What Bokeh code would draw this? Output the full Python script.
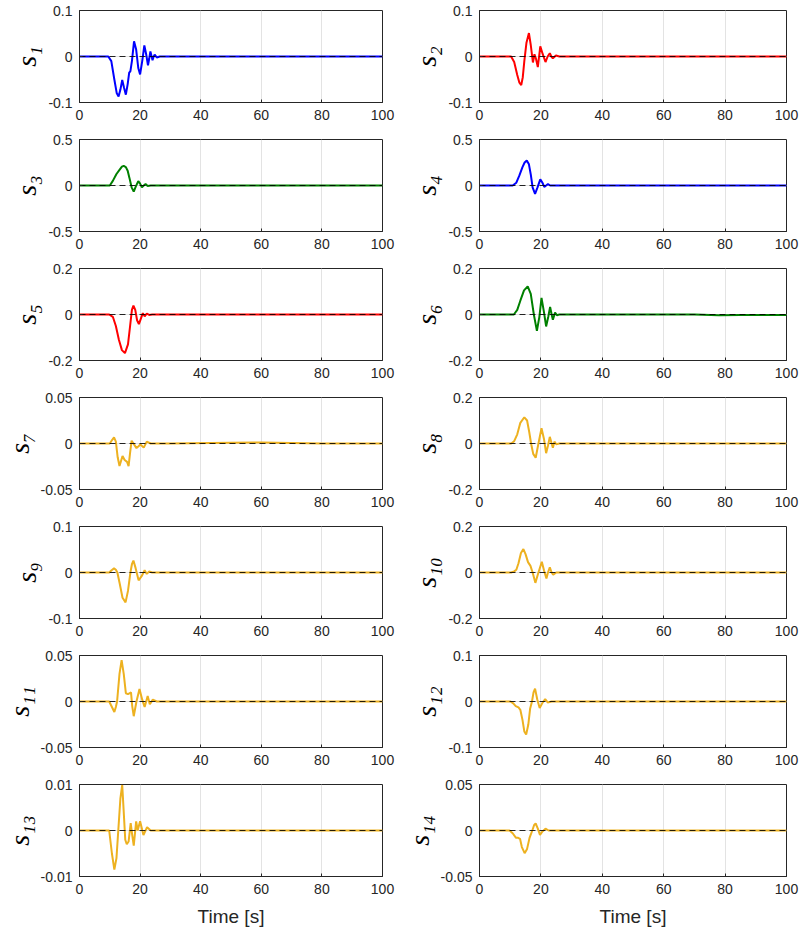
from bokeh.plotting import figure
from bokeh.layouts import gridplot
from bokeh.models import Range1d, FixedTicker
from bokeh.embed import file_html
from bokeh.resources import INLINE

# ---------------- data ----------------
x_ticks = [0, 20, 40, 60, 80, 100]
ref_t = [0, 100]
ref_v = [0, 0]

labels = ["s\u2081", "s\u2082", "s\u2083", "s\u2084", "s\u2085", "s\u2086", "s\u2087",
          "s\u2088", "s\u2089", "s\u2081\u2080", "s\u2081\u2081", "s\u2081\u2082",
          "s\u2081\u2083", "s\u2081\u2084"]
y_limits = [0.1, 0.1, 0.5, 0.5, 0.2, 0.2, 0.05, 0.2, 0.1, 0.2, 0.05, 0.1, 0.01, 0.05]
y_tick_labels = [["-0.1", "0", "0.1"], ["-0.1", "0", "0.1"], ["-0.5", "0", "0.5"],
                 ["-0.5", "0", "0.5"], ["-0.2", "0", "0.2"], ["-0.2", "0", "0.2"],
                 ["-0.05", "0", "0.05"], ["-0.2", "0", "0.2"], ["-0.1", "0", "0.1"],
                 ["-0.2", "0", "0.2"], ["-0.05", "0", "0.05"], ["-0.1", "0", "0.1"],
                 ["-0.01", "0", "0.01"], ["-0.05", "0", "0.05"]]
line_colors = ["#0000ff", "#ff0000", "#008000", "#0000ff", "#ff0000", "#008000",
               "#edb120", "#edb120", "#edb120", "#edb120", "#edb120", "#edb120",
               "#edb120", "#edb120"]

s1_t = [0, 9.5, 10.5, 11.5, 12.3, 12.9, 13.5, 14.1, 14.7, 15.3, 15.9, 16.4, 16.8, 17.3, 18.0,
        18.7, 19.4, 20.0, 20.7, 21.4, 22.0, 22.6, 23.0, 23.4, 23.8, 24.1, 24.5, 24.8, 25.5, 26.5, 100]
s1_v = [0, 0, -0.01, -0.05, -0.08, -0.087, -0.072, -0.051, -0.068, -0.083, -0.06, -0.035, -0.032,
        -0.01, 0.033, 0.015, -0.025, -0.039, -0.01, 0.024, 0.005, -0.019, -0.005, 0.011, 0.0,
        -0.008, 0, 0.004, -0.002, 0, 0]

s2_t = [0, 10.3, 11.3, 12.3, 13.0, 13.6, 14.1, 14.6, 15.3, 16.1, 16.7, 17.4, 17.9, 18.4, 19.0,
        19.8, 20.6, 21.5, 22.2, 22.9, 23.4, 23.9, 24.9, 26, 100]
s2_v = [0, 0, -0.012, -0.04, -0.057, -0.062, -0.045, -0.01, 0.03, 0.051, 0.025, -0.013, 0.005,
        -0.005, -0.023, 0.022, 0.005, -0.012, 0.0, 0.007, 0.0, -0.004, 0.002, 0, 0]

s3_t = [0, 10, 11, 12.2, 13.2, 14.0, 14.6, 15.3, 15.9, 16.5, 17.2, 17.9, 18.6, 19.4, 20.0, 20.6,
        21.2, 21.8, 22.5, 23.5, 100]
s3_v = [0, 0, 0.05, 0.125, 0.17, 0.205, 0.213, 0.2, 0.16, 0.08, -0.02, -0.067, -0.01, 0.048,
        0.02, -0.019, 0, 0.015, -0.005, 0, 0]

s4_t = [0, 10.8, 12, 13, 14, 14.7, 15.4, 16.1, 16.7, 17.3, 18.1, 18.9, 19.8, 20.5, 21.1, 21.7,
        22.3, 23, 100]
s4_v = [0, 0, 0.03, 0.11, 0.2, 0.25, 0.272, 0.23, 0.12, -0.02, -0.09, -0.02, 0.067, 0.03,
        -0.015, 0, 0.015, 0, 0]

s5_t = [0, 9.8, 11, 12, 13, 14, 15, 16, 16.7, 17.3, 17.8, 18.4, 19.0, 19.6, 20.2, 20.9, 21.5,
        22.2, 23, 24, 100]
s5_v = [0, 0, -0.01, -0.05, -0.11, -0.155, -0.168, -0.13, -0.05, 0.02, 0.039, 0.02, -0.025,
        -0.042, -0.02, 0.006, -0.008, 0.004, -0.002, 0, 0]

s6_t = [0, 11.2, 12.3, 13.3, 14.5, 15.7, 16.7, 17.7, 18.7, 19.5, 20.2, 21.0, 21.7, 22.4, 23.0,
        23.5, 23.9, 24.3, 24.6, 25.2, 26, 70, 78, 85, 100]
s6_v = [0, 0, 0.02, 0.06, 0.105, 0.122, 0.09, 0.0, -0.071, -0.01, 0.072, 0.01, -0.052, -0.01,
        0.033, 0.0, -0.023, -0.005, 0.008, -0.003, 0, 0, -0.003, -0.002, -0.002]

s7_t = [0, 10, 10.8, 11.4, 12.0, 12.6, 13.2, 13.7, 14.2, 14.9, 15.7, 16.2, 16.7, 17.2, 18.0,
        18.8, 19.5, 20.1, 21.2, 22.2, 23.5, 30, 50, 60, 70, 80, 100]
s7_v = [0, 0, 0.004, 0.0066, 0.002, -0.015, -0.0245, -0.019, -0.0135, -0.018, -0.02, -0.0245,
        -0.01, 0.003, -0.001, -0.005, -0.003, -0.001, -0.0045, 0.002, 0, 0, 0.0008, 0.001,
        0.0006, 0, 0]

s8_t = [0, 10.3, 11.3, 12.3, 13.3, 14.6, 15.5, 16.2, 16.8, 17.5, 18.3, 19.2, 20.2, 21.0, 21.7,
        22.3, 22.9, 23.4, 23.9, 24.4, 25, 26, 100]
s8_v = [0, 0, 0.01, 0.04, 0.09, 0.114, 0.1, 0.05, 0.0, -0.045, -0.062, 0.0, 0.066, 0.02,
        -0.042, -0.01, 0.029, 0.005, -0.018, 0.008, -0.003, 0, 0]

s9_t = [0, 9.8, 10.6, 11.4, 12.0, 12.5, 13.3, 14.2, 15.2, 16.0, 16.8, 17.3, 17.8, 18.5, 19.5,
        20.5, 21.5, 22.2, 23, 24, 100]
s9_v = [0, 0, 0.005, 0.009, 0.006, 0.0, -0.025, -0.055, -0.065, -0.04, 0.0, 0.018, 0.026, 0.01,
        -0.017, -0.008, 0.005, -0.003, 0.002, 0, 0]

s10_t = [0, 10.3, 11.3, 12.0, 12.7, 13.5, 14.3, 15.0, 15.8, 16.6, 17.3, 18.2, 19.2, 20.3, 21.0,
         21.8, 22.3, 22.9, 23.5, 24.0, 25, 100]
s10_v = [0, 0, 0.005, 0.012, 0.04, 0.085, 0.102, 0.08, 0.045, 0.029, 0.0, -0.045, 0.0, 0.047,
         0.01, -0.026, 0.0, 0.022, 0.0, -0.01, 0, 0]

s11_t = [0, 9.8, 10.7, 11.5, 12.0, 12.4, 13.2, 13.9, 14.6, 15.3, 16.0, 16.6, 17.0, 17.4, 17.9,
         18.8, 19.8, 20.7, 21.5, 22.0, 22.5, 23.2, 24.2, 25.5, 100]
s11_v = [0, 0, -0.006, -0.0114, -0.006, 0.0, 0.03, 0.045, 0.03, 0.009, 0.008, 0.009, 0.01,
         -0.005, -0.016, 0.0, 0.0136, 0.002, -0.006, 0.0, 0.006, -0.003, 0.002, 0, 0]

s12_t = [0, 10.1, 11.0, 11.8, 12.7, 13.3, 14.0, 14.6, 15.2, 15.9, 16.5, 17.1, 17.6, 18.1, 18.8,
         19.6, 20.5, 21.4, 22.2, 23.5, 100]
s12_v = [0, 0, -0.004, -0.01, -0.013, -0.018, -0.04, -0.065, -0.072, -0.05, -0.015, 0.0, 0.02,
         0.028, 0.005, -0.014, -0.003, 0.005, -0.002, 0, 0]

s13_t = [0, 9.8, 10.7, 11.5, 12.2, 12.8, 13.5, 14.1, 14.6, 15.1, 15.6, 16.2, 16.9, 17.4, 17.9,
         18.7, 19.2, 20.0, 21.1, 22.3, 23.5, 100]
s13_v = [0, 0, -0.005, -0.0085, -0.006, 0.0, 0.007, 0.0099, 0.004, -0.002, -0.003, -0.0024,
         0.0016, -0.001, -0.0033, 0.002, 0.0, 0.002, -0.001, 0.0007, 0, 0]

s14_t = [0, 9.8, 10.8, 11.9, 12.6, 13.2, 13.8, 14.7, 15.5, 16.3, 17.2, 17.8, 18.3, 19.0, 19.7,
         20.5, 21.5, 22.5, 100]
s14_v = [0, 0, -0.003, -0.008, -0.008, -0.009, -0.018, -0.0246, -0.02, -0.008, 0.0, 0.006,
         0.0076, 0.002, -0.0047, -0.001, 0.002, 0, 0]

series_t = [s1_t, s2_t, s3_t, s4_t, s5_t, s6_t, s7_t, s8_t, s9_t, s10_t, s11_t, s12_t, s13_t, s14_t]
series_v = [s1_v, s2_v, s3_v, s4_v, s5_v, s6_v, s7_v, s8_v, s9_v, s10_v, s11_v, s12_v, s13_v, s14_v]

# ---------------- layout ----------------
AX = "#262626"
FRAME_H = 92
TOP = 10
BOTTOM = 27
BOTTOM_LAST = 55

figs = []
for i in range(14):
    row, col = divmod(i, 2)
    last = row == 6
    if col == 0:
        bl, fw, br = 76, 306, 18
    else:
        bl, fw, br = 78, 308, 13
    bb = BOTTOM_LAST if last else BOTTOM
    a = y_limits[i]
    p = figure(width=bl + fw + br, height=TOP + FRAME_H + bb,
               x_range=Range1d(0, 100), y_range=Range1d(-a, a),
               output_backend="svg", toolbar_location=None, tools="")
    p.min_border_left = bl
    p.min_border_right = br
    p.min_border_top = TOP
    p.min_border_bottom = bb
    p.background_fill_color = "white"
    p.border_fill_color = "white"
    p.outline_line_color = AX
    p.outline_line_width = 1

    p.xaxis.ticker = FixedTicker(ticks=x_ticks)
    p.yaxis.ticker = FixedTicker(ticks=[-a, 0, a])
    p.yaxis.major_label_overrides = {-a: y_tick_labels[i][0], 0: y_tick_labels[i][1],
                                     a: y_tick_labels[i][2]}
    for ax in (p.xaxis, p.yaxis):
        ax.axis_line_color = AX
        ax.major_tick_line_color = AX
        ax.major_tick_in = 3
        ax.major_tick_out = 0
        ax.minor_tick_line_color = None
        ax.major_label_text_font = "Liberation Sans"
        ax.major_label_text_font_size = "14px"
        ax.major_label_text_color = AX
        ax.major_label_standoff = 7
    p.yaxis.axis_label = labels[i]
    p.yaxis.axis_label_text_font = "Liberation Serif"
    p.yaxis.axis_label_text_font_style = "italic"
    p.yaxis.axis_label_text_font_size = "28px"
    p.yaxis.axis_label_text_color = "black"
    p.yaxis.axis_label_standoff = 3
    if last:
        p.xaxis.axis_label = "Time [s]"
        p.xaxis.axis_label_text_font = "Liberation Sans"
        p.xaxis.axis_label_text_font_style = "normal"
        p.xaxis.axis_label_text_font_size = "19px"
        p.xaxis.axis_label_text_color = AX
        p.xaxis.axis_label_standoff = 9

    p.xgrid.ticker = FixedTicker(ticks=x_ticks)
    p.ygrid.ticker = FixedTicker(ticks=[-a, 0, a])
    for g in (p.xgrid, p.ygrid):
        g.grid_line_color = "#e3e3e3"
        g.grid_line_width = 1

    p.line(series_t[i], series_v[i], line_color=line_colors[i], line_width=2)
    p.line(ref_t, ref_v, line_color="black", line_width=1, line_dash="6 4", line_alpha=0.85)
    figs.append(p)

grid = gridplot([figs[k:k + 2] for k in range(0, 14, 2)], toolbar_location=None)

open("out.html", "w").write(file_html(grid, INLINE))
